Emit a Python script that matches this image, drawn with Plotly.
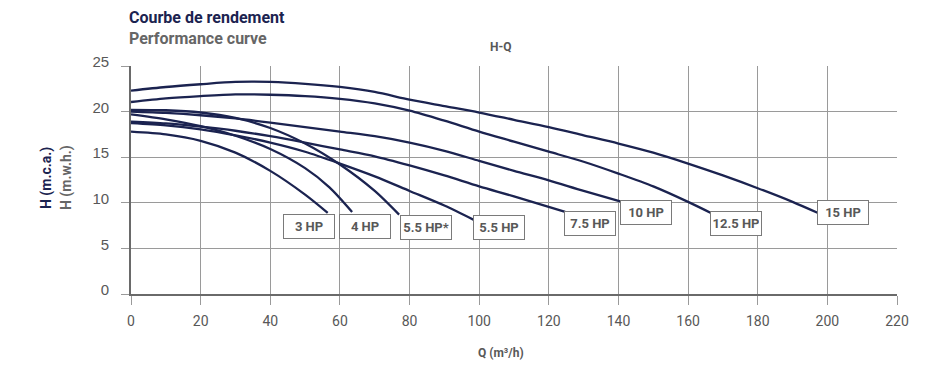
import plotly.graph_objects as go

# ---- data ----
series_names = ["3 HP", "4 HP", "5.5 HP*", "5.5 HP", "7.5 HP", "10 HP", "12.5 HP", "15 HP"]

q_3hp = [0, 10, 20, 30, 40, 50, 56.5]
h_3hp = [17.8, 17.5, 16.8, 15.5, 13.5, 10.9, 8.9]

q_4hp = [0, 10, 20, 30, 40, 50, 57, 63.5]
h_4hp = [19.7, 19.15, 18.4, 17.35, 15.9, 13.8, 11.7, 9.0]

q_55s = [0, 10, 20, 30, 40, 50, 60, 70, 77]
h_55s = [20.2, 20.15, 19.9, 19.3, 18.2, 16.5, 14.2, 11.3, 8.7]

q_55 = [0, 10, 20, 30, 40, 50, 60, 70, 80, 90, 98.6]
h_55 = [18.75, 18.5, 18.05, 17.4, 16.6, 15.6, 14.3, 12.9, 11.3, 9.7, 8.1]

q_75 = [0, 10, 20, 30, 40, 50, 60, 70, 80, 90, 100, 110, 124.7]
h_75 = [18.9, 18.7, 18.35, 17.9, 17.3, 16.6, 15.85, 15.1, 14.1, 13.0, 11.8, 10.7, 9.0]

q_10 = [0, 10, 20, 30, 40, 50, 60, 70, 80, 90, 100, 110, 120, 130, 141]
h_10 = [20.0, 19.85, 19.6, 19.25, 18.8, 18.3, 17.8, 17.3, 16.6, 15.7, 14.6, 13.5, 12.45, 11.3, 10.1]

q_125 = [0, 10, 20, 30, 40, 50, 60, 70, 80, 90, 100, 110, 120, 130, 140, 150, 160, 167]
h_125 = [21.05, 21.45, 21.7, 21.88, 21.85, 21.7, 21.4, 20.9, 20.1, 19.0, 17.8, 16.7, 15.6,
         14.5, 13.2, 11.8, 10.1, 8.8]

q_15 = [0, 10, 20, 30, 40, 50, 60, 70, 80, 90, 100, 110, 120, 130, 140, 150, 160, 170, 180,
        190, 197.5]
h_15 = [22.3, 22.7, 23.0, 23.25, 23.25, 23.05, 22.7, 22.15, 21.3, 20.6, 19.9, 19.1, 18.3,
        17.4, 16.5, 15.5, 14.3, 13.0, 11.6, 10.1, 8.85]

x_ticks = [0, 20, 40, 60, 80, 100, 120, 140, 160, 180, 200, 220]
y_ticks = [0, 5, 10, 15, 20, 25]

series_q = [q_3hp, q_4hp, q_55s, q_55, q_75, q_10, q_125, q_15]
series_h = [h_3hp, h_4hp, h_55s, h_55, h_75, h_10, h_125, h_15]

# label box positions (data coordinates, layout only)
label_pos = [(51.2, 7.4), (67.2, 7.4), (84.6, 7.24), (105.8, 7.24),
             (131.7, 7.68), (148.0, 8.94), (173.7, 7.75), (204.4, 8.94)]

NAVY = "#1b2350"
GRAY_TXT = "#585858"
GRID = "#9a9a9a"
AXIS = "#6a6a6a"
COND = "Roboto, 'Liberation Sans Narrow', sans-serif"

# page offset (body margin) compensation: positions below are in reference pixels
OFF = 8
W, H = 938 - OFF, 379 - OFF
ML, MT = 131 - OFF, 66 - OFF
MR = W - (897 - OFF)
MB = H - (294 - OFF)
pw, ph = W - ML - MR, H - MT - MB


def px(x):
    return (x - OFF - ML) / pw


def py(y):
    return 1 - (y - OFF - MT) / ph


fig = go.Figure()
for name, q, h in zip(series_names, series_q, series_h):
    fig.add_trace(go.Scatter(x=q, y=h, mode="lines", name=name,
                             line=dict(color=NAVY, width=2.3, shape="spline", smoothing=0.8),
                             showlegend=False, hoverinfo="skip"))

for name, (lx, ly) in zip(series_names, label_pos):
    fig.add_annotation(x=lx, y=ly, xref="x", yref="y", text="<b>%s</b>" % name,
                       showarrow=False, font=dict(family=COND, size=13, color=GRAY_TXT),
                       bgcolor="white", bordercolor="#7a7a7a", borderwidth=1,
                       borderpad=2, width=46, height=19, align="center")

texts = [
    ("<b>Courbe de rendement</b>", 127, 17, "left", 16, NAVY, 0),
    ("<b>Performance curve</b>", 127, 38, "left", 16, "#666666", 0),
    ("<b>H-Q</b>", 500, 47, "center", 12, GRAY_TXT, 0),
    ("<b>H (m.c.a.)</b>", 46, 178, "center", 14, NAVY, -90),
    ("<b>H (m.w.h.)</b>", 66, 178, "center", 14, "#666666", -90),
    ("<b>Q (m³/h)</b>", 501, 353, "center", 12, GRAY_TXT, 0),
]
for t, x, y, xa, sz, col, ang in texts:
    fig.add_annotation(x=px(x), y=py(y), xref="paper", yref="paper", text=t,
                       showarrow=False, xanchor=xa, yanchor="middle", textangle=ang,
                       font=dict(family=COND, size=sz, color=col))

fig.update_xaxes(range=[0, 220], tickvals=x_ticks, ticktext=[str(v) for v in x_ticks],
                 showgrid=True, gridcolor=GRID, gridwidth=1.3, automargin=False,
                 ticks="outside", ticklen=9, tickcolor=GRID, tickwidth=1.3,
                 ticklabelstandoff=4,
                 showline=True, linecolor=AXIS, linewidth=1.6, zeroline=False,
                 tickfont=dict(family=COND, size=14, color=GRAY_TXT))
fig.update_yaxes(range=[0, 25], tickvals=y_ticks, ticktext=[str(v) for v in y_ticks],
                 showgrid=True, gridcolor=GRID, gridwidth=1.3, automargin=False,
                 ticks="outside", ticklen=8, tickcolor=GRID, tickwidth=1.3,
                 ticklabelstandoff=9, ticklabelshift=-4,
                 showline=True, linecolor=AXIS, linewidth=1.6, zeroline=False,
                 tickfont=dict(family="Liberation Sans, Arial, sans-serif", size=15, color=GRAY_TXT))

fig.update_layout(width=W, height=H, margin=dict(l=ML, r=MR, t=MT, b=MB),
                  paper_bgcolor="white", plot_bgcolor="white")

fig.write_html("out.html")
